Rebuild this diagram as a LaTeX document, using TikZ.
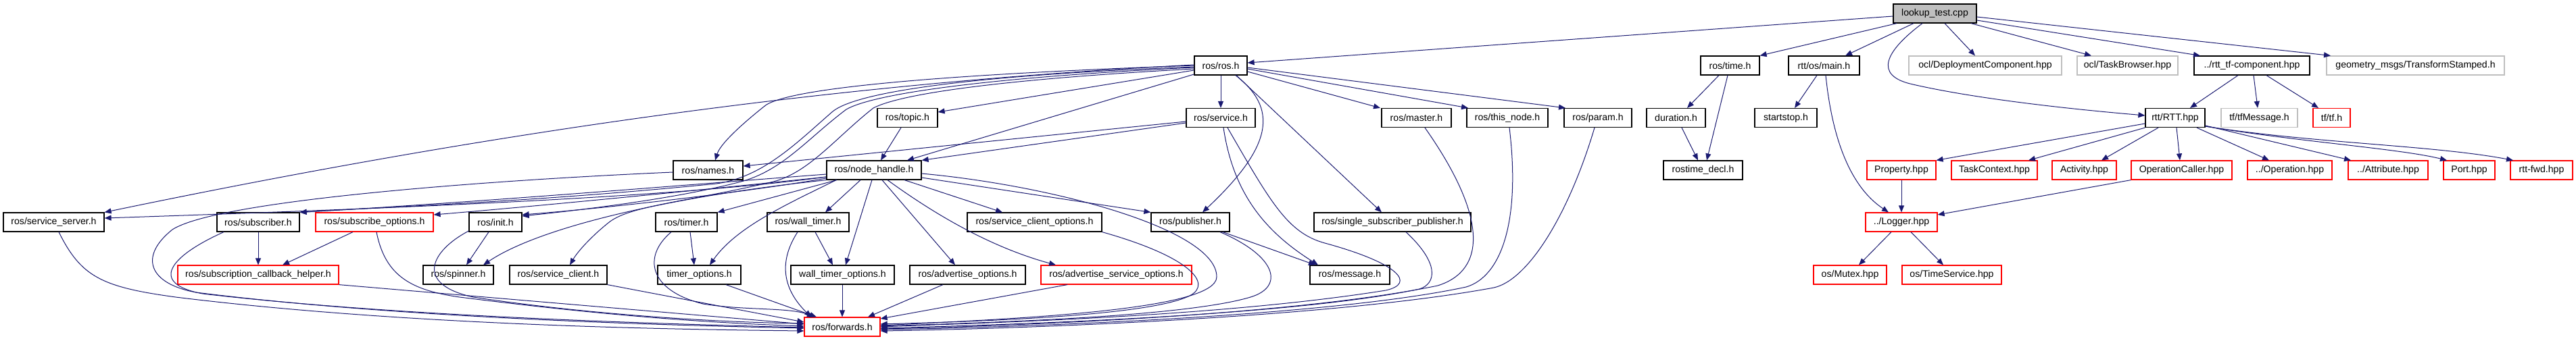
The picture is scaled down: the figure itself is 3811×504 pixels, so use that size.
\documentclass[tikz,border=0pt]{standalone}
\usepackage{fontspec}
\setmainfont{Liberation Sans}
\usetikzlibrary{arrows.meta}
\definecolor{edgecol}{HTML}{191970}
\definecolor{grayb}{HTML}{BFBFBF}
\tikzset{
  box/.style={rectangle, minimum height=28pt, inner sep=0pt, line width=1.2pt, fill=white, font=\fontsize{14.1}{16}\selectfont},
  nb/.style={box, draw=black},
  nr/.style={box, draw=red},
  ng/.style={box, draw=grayb},
  nroot/.style={box, draw=black, fill=grayb},
  edg/.style={draw=edgecol, line width=1pt, -{Triangle[length=10pt,width=8pt]}}
}
\begin{document}
\begin{tikzpicture}[x=1pt,y=-1pt]
\useasboundingbox (0,0) rectangle (3811,504);
% row 0
\node[nroot, minimum width=123] (L) at (2862.5,20) {lookup\_test.cpp};
% row 1
\node[nb, minimum width=78] (ros) at (1806,97) {ros/ros.h};
\node[nb, minimum width=87] (time) at (2559.5,97) {ros/time.h};
\node[nb, minimum width=105] (main) at (2698.5,97) {rtt/os/main.h};
\node[ng, minimum width=226] (deploy) at (2937,97) {ocl/DeploymentComponent.hpp};
\node[ng, minimum width=149] (taskb) at (3147.5,97) {ocl/TaskBrowser.hpp};
\node[nb, minimum width=171] (rtttf) at (3331.5,97) {../rtt\_tf-component.hpp};
\node[ng, minimum width=263] (geom) at (3573.5,97) {geometry\_msgs/TransformStamped.h};
% row 2
\node[nb, minimum width=89] (topic) at (1342.5,174.5) {ros/topic.h};
\node[nb, minimum width=102] (service) at (1806,174.5) {ros/service.h};
\node[nb, minimum width=103] (master) at (2095.5,174.5) {ros/master.h};
\node[nb, minimum width=120] (thisnode) at (2230,174.5) {ros/this\_node.h};
\node[nb, minimum width=100] (param) at (2364,174.5) {ros/param.h};
\node[nb, minimum width=87] (duration) at (2479.5,174.5) {duration.h};
\node[nb, minimum width=92] (startstop) at (2642,174.5) {startstop.h};
\node[nb, minimum width=88] (rtt) at (3218,174.5) {rtt/RTT.hpp};
\node[ng, minimum width=113] (tfmsg) at (3342.5,174.5) {tf/tfMessage.h};
\node[nr, minimum width=55] (tf) at (3449.5,174.5) {tf/tf.h};
% row 3
\node[nb, minimum width=103] (names) at (1047.5,252) {ros/names.h};
\node[nb, minimum width=140] (nh) at (1293,252) {ros/node\_handle.h};
\node[nb, minimum width=117] (rostime) at (2519.5,252) {rostime\_decl.h};
\node[nr, minimum width=102] (prop) at (2813,252) {Property.hpp};
\node[nr, minimum width=127] (taskc) at (2950.5,252) {TaskContext.hpp};
\node[nr, minimum width=95] (activity) at (3083.5,252) {Activity.hpp};
\node[nr, minimum width=149] (opcaller) at (3227.5,252) {OperationCaller.hpp};
\node[nr, minimum width=125] (oper) at (3387.5,252) {../Operation.hpp};
\node[nr, minimum width=118] (attr) at (3533,252) {../Attribute.hpp};
\node[nr, minimum width=76] (port) at (3653,252) {Port.hpp};
\node[nr, minimum width=92] (rttfwd) at (3760,252) {rtt-fwd.hpp};
% row 4
\node[nb, minimum width=149] (ssrv) at (79.5,329) {ros/service\_server.h};
\node[nb, minimum width=122] (sub) at (382,329) {ros/subscriber.h};
\node[nr, minimum width=174] (subopt) at (554,329) {ros/subscribe\_options.h};
\node[nb, minimum width=78] (init) at (733,329) {ros/init.h};
\node[nb, minimum width=91] (timer) at (1015.5,329) {ros/timer.h};
\node[nb, minimum width=121] (wtimer) at (1195.5,329) {ros/wall\_timer.h};
\node[nb, minimum width=199] (sco) at (1530.5,329) {ros/service\_client\_options.h};
\node[nb, minimum width=116] (pub) at (1761,329) {ros/publisher.h};
\node[nb, minimum width=232] (ssp) at (2060,329) {ros/single\_subscriber\_publisher.h};
\node[nr, minimum width=106] (logger) at (2813,329) {../Logger.hpp};
% row 5
\node[nr, minimum width=238] (scbh) at (382,407) {ros/subscription\_callback\_helper.h};
\node[nb, minimum width=104] (spinner) at (678,407) {ros/spinner.h};
\node[nb, minimum width=144] (sclient) at (826,407) {ros/service\_client.h};
\node[nb, minimum width=123] (topt) at (1034.5,407) {timer\_options.h};
\node[nb, minimum width=153] (wtopt) at (1246.5,407) {wall\_timer\_options.h};
\node[nb, minimum width=171] (advopt) at (1431.5,407) {ros/advertise\_options.h};
\node[nr, minimum width=223] (advsopt) at (1651.5,407) {ros/advertise\_service\_options.h};
\node[nb, minimum width=118] (message) at (1997,407) {ros/message.h};
\node[nr, minimum width=108] (mutex) at (2737,407) {os/Mutex.hpp};
\node[nr, minimum width=147] (timesvc) at (2887.5,407) {os/TimeService.hpp};
% row 6
\node[nr, minimum width=112] (fwd) at (1246,484) {ros/forwards.h};

% root edges
\draw[edg] (L.west |- 0,24) -- (ros.east |- 0,93);
\draw[edg] (L.south -| 2806,0) -- (time.north east);
\draw[edg] (L.south -| 2831,0) -- (main.north -| 2730,0);
\draw[edg] (L.south -| 2844,0) .. controls (2790,75) and (2770,112) .. (2830,125) .. controls (2930,148) and (3080,163) .. (rtt.west |- 0,171);
\draw[edg] (L.south -| 2877,0) -- (deploy.north -| 2922,0);
\draw[edg] (L.south -| 2916,0) -- (taskb.north -| 3094,0);
\draw[edg] (L.east |- 0,30) -- (rtttf.north -| 3255,0);
\draw[edg] (L.east |- 0,25) -- (geom.north -| 3448,0);
% time
\draw[edg] (time.south -| 2543,0) -- (duration.north -| 2496,0);
\draw[edg] (time.south -| 2556,0) -- (rostime.north -| 2525,0);
\draw[edg] (duration.south -| 2488,0) -- (rostime.north -| 2512,0);
% main
\draw[edg] (main.south -| 2688,0) -- (startstop.north -| 2655,0);
\draw[edg] (main.south -| 2701,0) .. controls (2710,200) and (2735,275) .. (logger.north -| 2794,0);
% rtt_tf
\draw[edg] (rtttf.south -| 3311,0) -- (rtt.north -| 3240,0);
\draw[edg] (rtttf.south -| 3334,0) -- (tfmsg.north -| 3340,0);
\draw[edg] (rtttf.south -| 3353,0) -- (tf.north -| 3430,0);
% RTT
\draw[edg] (rtt.west |- 0,183) -- (prop.north east);
\draw[edg] (rtt.south west) -- (taskc.north -| 3001,0);
\draw[edg] (rtt.south -| 3193,0) -- (activity.north -| 3109,0);
\draw[edg] (rtt.south -| 3220,0) -- (opcaller.north -| 3225,0);
\draw[edg] (rtt.south -| 3250,0) -- (oper.north -| 3357,0);
\draw[edg] (rtt.east |- 0,186) -- (attr.north -| 3478,0);
\draw[edg] (rtt.east |- 0,187) .. controls (3400,210) and (3550,220) .. (port.north -| 3620,0);
\draw[edg] (rtt.east |- 0,187) .. controls (3420,212) and (3600,215) .. (rttfwd.north -| 3718,0);
\draw[edg] (prop) -- (logger);
\draw[edg] (opcaller.south west) -- (logger.east |- 0,318);
\draw[edg] (logger.south -| 2798,0) -- (mutex.north -| 2750,0);
\draw[edg] (logger.south -| 2827,0) -- (timesvc.north -| 2875,0);
% ros.h
\draw[edg] (ros.west |- 0,104) -- (topic.east |- 0,166);
\draw[edg] (ros.west |- 0,110) -- (nh.north -| 1342,0);
\draw[edg] (ros) -- (service);
\draw[edg] (ros.south -| 1828,0) .. controls (1890,160) and (1885,215) .. (pub.north -| 1779,0);
\draw[edg] (ros.south -| 1829,0) -- (ssp.north -| 2044,0);
\draw[edg] (ros.east |- 0,106) -- (master.north -| 2042,0);
\draw[edg] (ros.east |- 0,102) -- (thisnode.north -| 2172,0);
\draw[edg] (ros.east |- 0,100) -- (param.north -| 2316,0);
\draw[edg] (ros.west |- 0,97) .. controls (1400,110) and (1160,130) .. (1130,158) .. controls (1090,190) and (1065,215) .. (names.north -| 1058,0);
\draw[edg] (ros.west |- 0,96) .. controls (1300,120) and (800,180) .. (ssrv.north east);
\draw[edg] (ros.west |- 0,99) .. controls (1420,112) and (1265,138) .. (1232,165) .. controls (1180,210) and (1130,262) .. (1060,272) .. controls (800,298) and (600,305) .. (sub.north east);
\draw[edg] (ros.west |- 0,100) .. controls (1450,115) and (1290,140) .. (1252,162) .. controls (1195,205) and (1160,250) .. (1100,268) .. controls (1000,295) and (850,312) .. (init.east |- 0,320);
\draw[edg] (ros.west |- 0,102) .. controls (1470,118) and (1330,140) .. (1292,160) .. controls (1235,205) and (1195,258) .. (1140,270) .. controls (1010,300) and (930,305) .. (900,330) .. controls (875,350) and (855,372) .. (sclient.north -| 843,0);
% node_handle
\draw[edg] (nh.west |- 0,262) .. controls (1000,292) and (600,308) .. (ssrv.east |- 0,323);
\draw[edg] (nh.west |- 0,258) .. controls (1000,275) and (700,300) .. (sub.north east);
\draw[edg] (nh.west |- 0,262) .. controls (1050,280) and (800,305) .. (subopt.east |- 0,318);
\draw[edg] (nh.west |- 0,264) .. controls (1100,285) and (900,308) .. (init.east |- 0,318);
\draw[edg] (nh.south -| 1238,0) -- (timer.north east);
\draw[edg] (nh.south -| 1273,0) -- (wtimer.north -| 1221,0);
\draw[edg] (nh.south -| 1290,0) -- (wtopt.north -| 1251,0);
\draw[edg] (nh.south -| 1237,0) .. controls (1170,300) and (1090,335) .. (topt.north -| 1050,0);
\draw[edg] (nh.south west) .. controls (1000,290) and (800,335) .. (spinner.north -| 715,0);
\draw[edg] (nh.south -| 1305,0) -- (advopt.north -| 1413,0);
\draw[edg] (nh.south -| 1313,0) .. controls (1400,330) and (1480,370) .. (advsopt.north -| 1562,0);
\draw[edg] (nh.south -| 1338,0) -- (sco.north -| 1483,0);
\draw[edg] (nh.east |- 0,263) -- (pub.north west);
\draw[edg] (nh.east |- 0,257) .. controls (1560,275) and (1800,340) .. (1800,410) .. controls (1800,460) and (1500,472) .. (fwd.east |- 0,482);
% topic / service
\draw[edg] (topic.south -| 1333,0) -- (nh.north -| 1303,0);
\draw[edg] (service.west |- 0,182) -- (nh.north east);
\draw[edg] (service.west |- 0,180) -- (names.east |- 0,246);
% publisher / service
\draw[edg] (pub.south -| 1809,0) -- (message.north -| 1946,0);
\draw[edg] (pub.south -| 1805,0) .. controls (1890,380) and (1900,425) .. (1850,440) .. controls (1750,470) and (1450,478) .. (fwd.east |- 0,483);
\draw[edg] (service.south -| 1810,0) .. controls (1825,290) and (1875,345) .. (message.north -| 1950,0);
\draw[edg] (service.south -| 1816,0) .. controls (1880,300) and (1905,345) .. (1960,360) .. controls (2070,390) and (2095,420) .. (2050,430) .. controls (1800,470) and (1450,478) .. (fwd.east |- 0,484);
\draw[edg] (sco.south east) .. controls (1760,380) and (1795,420) .. (1760,438) .. controls (1700,468) and (1450,476) .. (fwd.east |- 0,480);
\draw[edg] (ssp.south -| 2080,0) .. controls (2130,390) and (2125,420) .. (2100,428) .. controls (1900,470) and (1450,482) .. (fwd.east |- 0,486);
\draw[edg] (master.south -| 2108,0) .. controls (2200,320) and (2200,400) .. (2127,423) .. controls (1900,470) and (1450,484) .. (fwd.east |- 0,487);
\draw[edg] (thisnode.south -| 2233,0) .. controls (2250,330) and (2220,410) .. (2169,425) .. controls (1950,472) and (1450,486) .. (fwd.east |- 0,488);
\draw[edg] (param.south -| 2359,0) .. controls (2320,320) and (2260,415) .. (2210,426) .. controls (1950,474) and (1450,488) .. (fwd.east |- 0,490);
% left side
\draw[edg] (ssrv.south -| 87,0) .. controls (120,410) and (150,425) .. (260,440) .. controls (600,482) and (1000,488) .. (fwd.west |- 0,490);
\draw[edg] (names.west |- 0,255) .. controls (700,268) and (320,298) .. (255,340) .. controls (205,380) and (220,420) .. (290,433) .. controls (600,472) and (1000,482) .. (fwd.west |- 0,486);
\draw[edg] (sub.south -| 331,0) .. controls (250,380) and (220,420) .. (300,435) .. controls (600,470) and (1000,480) .. (fwd.west |- 0,485);
\draw[edg] (sub) -- (scbh);
\draw[edg] (subopt.south -| 522,0) -- (scbh.north -| 418,0);
\draw[edg] (subopt.south -| 557,0) .. controls (570,410) and (610,430) .. (680,440) .. controls (900,468) and (1050,478) .. (fwd.west |- 0,483);
\draw[edg] (scbh.south east) -- (fwd.west |- 0,480);
\draw[edg] (init.south -| 723,0) -- (spinner.north -| 690,0);
\draw[edg] (init.west |- 0,342) .. controls (640,370) and (610,420) .. (700,440) .. controls (900,470) and (1100,478) .. (fwd.west |- 0,479);
\draw[edg] (sclient.south east) -- (fwd.west |- 0,477);
\draw[edg] (timer.south -| 1021,0) -- (topt.north -| 1027,0);
\draw[edg] (timer.south -| 993,0) .. controls (950,380) and (960,430) .. (1040,450) .. controls (1100,460) and (1170,455) .. (fwd.north -| 1204,0);
\draw[edg] (topt.south -| 1074,0) -- (fwd.north -| 1208,0);
\draw[edg] (wtimer.south -| 1180,0) .. controls (1150,390) and (1160,430) .. (fwd.north -| 1200,0);
\draw[edg] (wtimer.south -| 1206,0) -- (wtopt.north -| 1232,0);
\draw[edg] (wtopt.south -| 1246,0) -- (fwd.north -| 1246,0);
\draw[edg] (advopt.south -| 1395,0) -- (fwd.north -| 1284,0);
\draw[edg] (advsopt.south -| 1579,0) -- (fwd.east |- 0,472);
\end{tikzpicture}
\end{document}
